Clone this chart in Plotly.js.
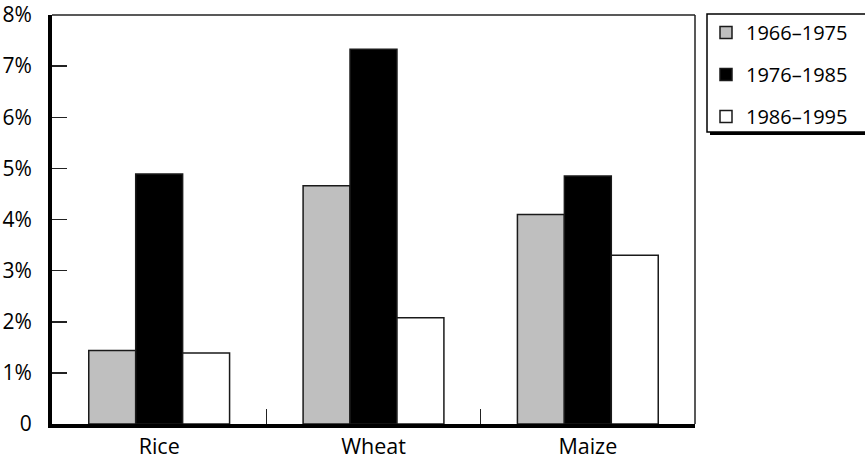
<!DOCTYPE html>
<html>
<head>
<meta charset="utf-8">
<script src="https://cdn.plot.ly/plotly-3.0.1.min.js"></script>
<style>html,body{margin:0;padding:0;background:#fff;}#chart{width:865px;height:459px;}</style>
</head>
<body>
<div id="chart"></div>
<script>
const crops = ['Rice', 'Wheat', 'Maize'];
const periods = ['1966\u20131975', '1976\u20131985', '1986\u20131995'];
const v1966 = [1.44, 4.66, 4.10];
const v1976 = [4.89, 7.33, 4.85];
const v1986 = [1.39, 2.08, 3.30];
const yTickVals = [0, 1, 2, 3, 4, 5, 6, 7, 8];
const yTickText = ['0', '1%', '2%', '3%', '4%', '5%', '6%', '7%', '8%'];

const fills = ['#bfbfbf', '#000000', '#ffffff'];
const series = [v1966, v1976, v1986];

const traces = series.map((vals, i) => ({
  type: 'bar',
  x: crops,
  y: vals,
  name: periods[i],
  legendgroup: 'g' + i,
  marker: { color: fills[i], line: { color: '#1a1a1a', width: 1.5 } },
  hoverinfo: 'skip'
}));

const FONT = 'Open Sans, Noto Sans, sans-serif';
const L = 52, R = 695, T = 15, B = 424;
const W = R - L, H = B - T;
const px = v => (v - L) / W;
const py = v => (B - v) / H;

const layout = {
  width: 865, height: 459,
  margin: { l: L, r: 865 - R, t: T, b: 459 - B },
  paper_bgcolor: '#ffffff', plot_bgcolor: '#ffffff',
  font: { family: FONT, size: 20, color: '#000' },
  barmode: 'group',
  bargap: 0.343, bargroupgap: 0,
  showlegend: true,
  legend: {
    x: px(706), xanchor: 'left',
    y: py(13), yanchor: 'top',
    bgcolor: 'rgba(0,0,0,0)', borderwidth: 0,
    font: { family: FONT, size: 20, color: '#000' },
    traceorder: 'grouped', tracegroupgap: 13
  },
  xaxis: {
    type: 'category', range: [-0.5, 2.5],
    showline: true, linewidth: 4, linecolor: '#000',
    ticks: 'inside', tickson: 'boundaries', ticklen: 15, tickwidth: 1.5, tickcolor: '#222',
    showgrid: false, zeroline: false,
    tickfont: { family: FONT, size: 21.5, color: '#000' }
  },
  yaxis: {
    range: [0, 8], showline: true, linewidth: 4, linecolor: '#000',
    ticks: 'inside', ticklen: 15, tickwidth: 1.5, tickcolor: '#222',
    tickvals: yTickVals, ticktext: yTickText,
    ticklabelstandoff: 12,
    showgrid: false, zeroline: false,
    tickfont: { family: FONT, size: 21, color: '#000' }
  },
  shapes: [
    { type: 'line', xref: 'paper', yref: 'paper', x0: 0, x1: 1, y0: 1, y1: 1, line: { color: '#222', width: 1.5 } },
    { type: 'line', xref: 'paper', yref: 'paper', x0: 1, x1: 1, y0: 0, y1: 1, line: { color: '#222', width: 1.5 } },
    { type: 'rect', xref: 'paper', yref: 'paper', x0: px(710), x1: px(900), y0: py(135), y1: py(17), fillcolor: '#000', line: { width: 0 } },
    { type: 'rect', xref: 'paper', yref: 'paper', x0: px(707), x1: px(900), y0: py(132), y1: py(14), fillcolor: '#fff', line: { color: '#000', width: 1.5 } }
  ]
};

Plotly.newPlot('chart', traces, layout, { displayModeBar: false, staticPlot: true });
</script>
</body>
</html>
